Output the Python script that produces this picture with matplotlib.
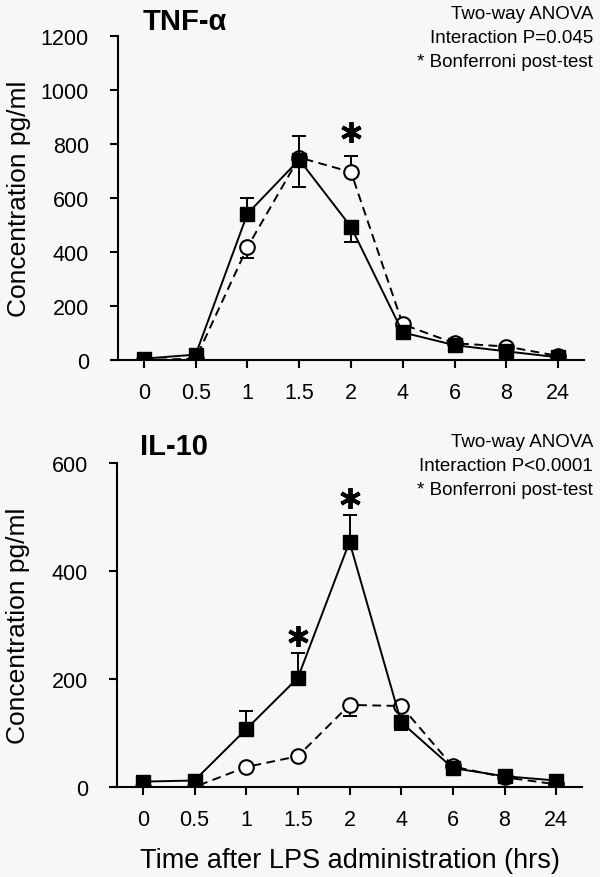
import matplotlib
matplotlib.use("Agg")
import matplotlib.pyplot as plt
import matplotlib.transforms as mtransforms
import numpy as np

plt.rcParams['font.family'] = ['Liberation Sans', 'DejaVu Sans']

# time points (categorical axis)
times = ['0', '0.5', '1', '1.5', '2', '4', '6', '8', '24']

# TNF-alpha, filled squares (solid) and open circles (dashed)
tnf_sq = [5, 20, 542, 742, 493, 102, 55, 32, 10]
tnf_sq_up = [0, 0, 58, 88, 0, 0, 0, 0, 0]
tnf_sq_dn = [0, 0, 0, 0, 56, 0, 0, 0, 0]
tnf_ci = [0, 5, 418, 750, 696, 132, 62, 50, 15]
tnf_ci_up = [0, 0, 0, 0, 60, 0, 0, 0, 0]
tnf_ci_dn = [0, 0, 40, 110, 0, 0, 0, 0, 0]
tnf_stars = [4]

# IL-10
il_sq = [10, 12, 107, 202, 454, 120, 35, 20, 12]
il_sq_up = [0, 0, 33, 46, 50, 0, 0, 0, 0]
il_sq_dn = [0, 0, 0, 0, 0, 14, 0, 0, 0]
il_ci = [0, 0, 37, 57, 152, 150, 38, 18, 5]
il_ci_up = [0, 0, 0, 0, 0, 0, 0, 0, 0]
il_ci_dn = [0, 0, 0, 0, 21, 0, 0, 0, 0]
il_stars = [3, 4]

W, H = 600, 878
bg = '#f7f7f7'
fig = plt.figure(figsize=(W / 100, H / 100), dpi=100, facecolor=bg)


def px(x, y):
    return x / W, 1 - y / H


def err_series(ax, x, y, up, dn, z):
    idx = [i for i in range(len(x)) if up[i] > 0 or dn[i] > 0]
    if not idx:
        return
    ax.errorbar(x[idx], y[idx], yerr=[np.array(dn)[idx], np.array(up)[idx]],
                fmt='none', ecolor='black', elinewidth=1.4, capsize=5,
                capthick=1.4, zorder=z)


def panel(rect, sq, sq_up, sq_dn, ci, ci_up, ci_dn, stars, ymax, star_off):
    ax = fig.add_axes(rect, facecolor=bg)
    x = np.arange(len(times))
    sq = np.array(sq, float)
    ci = np.array(ci, float)
    err_series(ax, x, ci, ci_up, ci_dn, 2)
    ax.plot(x, ci, color='black', lw=1.4, dashes=(4.5, 2.8), marker='o', ms=10.5,
            mfc='white', mec='black', mew=1.5, zorder=3)
    err_series(ax, x, sq, sq_up, sq_dn, 4)
    ax.plot(x, sq, color='black', lw=1.4, marker='s', ms=10.5,
            mfc='black', mec='black', zorder=5)
    # significance stars above the highest error bar
    tr = mtransforms.offset_copy(ax.transData, fig=fig, y=star_off, units='points')
    for i in stars:
        top = max(sq[i] + sq_up[i], ci[i] + ci_up[i])
        ax.plot([i], [top], marker=(6, 2, 0), ms=15, mew=2.8, color='black',
                transform=tr, zorder=6, clip_on=False)
    ax.set_xlim(-0.5, 8.5)
    ax.set_ylim(0, ymax)
    ax.set_xticks(x)
    ax.set_xticklabels(times)
    ax.set_yticks(np.arange(0, ymax + 1, 200))
    for s in ['top', 'right']:
        ax.spines[s].set_visible(False)
    for s in ['left', 'bottom']:
        ax.spines[s].set_linewidth(1.5)
    ax.tick_params(axis='both', direction='out', length=6, width=1.5,
                   labelsize=15.5, color='black')
    ax.tick_params(axis='y', pad=15)
    ax.tick_params(axis='x', pad=10)
    ax.set_ylabel('Concentration pg/ml', fontsize=19, va='center', ha='center')
    ax.yaxis.set_label_coords(-0.212, 0.5)
    return ax


ax1 = panel([118 / W, 1 - 361 / H, 466 / W, 324 / H],
            tnf_sq, tnf_sq_up, tnf_sq_dn, tnf_ci, tnf_ci_up, tnf_ci_dn,
            tnf_stars, 1200, 17)
ax2 = panel([117 / W, 1 - 788 / H, 465 / W, 324 / H],
            il_sq, il_sq_up, il_sq_dn, il_ci, il_ci_up, il_ci_dn,
            il_stars, 600, 12)

ax2.set_xlabel('Time after LPS administration (hrs)', fontsize=19.5, va='baseline')
ax2.xaxis.set_label_coords(0.5, -0.247)

# panel titles
fig.text(*px(143, 30), 'TNF-α', fontsize=21, fontweight='bold', va='baseline', ha='left')
fig.text(*px(140, 455), 'IL-10', fontsize=21, fontweight='bold', va='baseline', ha='left')

# statistics notes
notes_top = ['Two-way ANOVA', 'Interaction P=0.045', '* Bonferroni post-test']
notes_bot = ['Two-way ANOVA', 'Interaction P<0.0001', '* Bonferroni post-test']
for txt, yb in zip(notes_top, [19, 43, 67]):
    fig.text(*px(593, yb), txt, fontsize=13.5, ha='right', va='baseline')
for txt, yb in zip(notes_bot, [447, 471, 495]):
    fig.text(*px(593, yb), txt, fontsize=13.5, ha='right', va='baseline')

fig.savefig('out.png', dpi=100, facecolor=bg)
